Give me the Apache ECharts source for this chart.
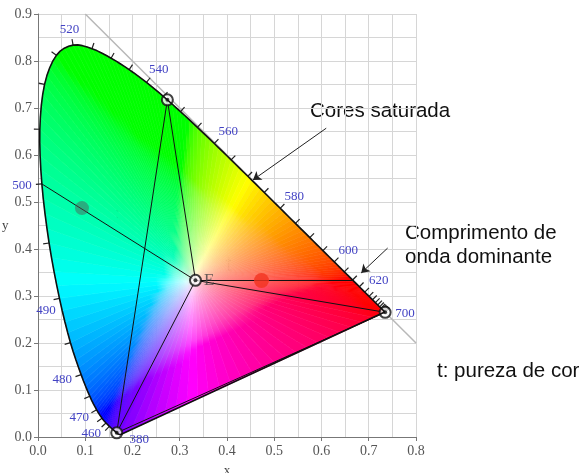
<!DOCTYPE html>
<html>
<head>
<meta charset="utf-8">
<script src="https://cdn.jsdelivr.net/npm/echarts@6/dist/echarts.min.js"></script>
<style>
html,body{margin:0;padding:0;background:#fff}
#chart{width:586px;height:473px}
</style>
</head>
<body>
<div id="chart"></div>
<script>
// CIE 1931 spectral locus, 5 nm steps
var wavelengths = [380,385,390,395,400,405,410,415,420,425,430,435,440,445,450,455,460,465,470,475,480,485,490,495,500,505,510,515,520,525,530,535,540,545,550,555,560,565,570,575,580,585,590,595,600,605,610,615,620,625,630,635,640,645,650,655,660,665,670,675,680,685,690,695,700];
var locusX = [0.1741,0.1740,0.1738,0.1736,0.1733,0.1730,0.1726,0.1721,0.1714,0.1703,0.1689,0.1669,0.1644,0.1611,0.1566,0.1510,0.1440,0.1355,0.1241,0.1096,0.0913,0.0687,0.0454,0.0235,0.0082,0.0039,0.0139,0.0389,0.0743,0.1142,0.1547,0.1929,0.2296,0.2658,0.3016,0.3373,0.3731,0.4087,0.4441,0.4788,0.5125,0.5448,0.5752,0.6029,0.6270,0.6482,0.6658,0.6801,0.6915,0.7006,0.7079,0.7140,0.7190,0.7230,0.7260,0.7283,0.7300,0.7311,0.7320,0.7327,0.7334,0.7340,0.7344,0.7346,0.7347];
var locusY = [0.0050,0.0050,0.0049,0.0049,0.0048,0.0048,0.0048,0.0048,0.0051,0.0058,0.0069,0.0086,0.0109,0.0138,0.0177,0.0227,0.0297,0.0399,0.0578,0.0868,0.1327,0.2007,0.2950,0.4127,0.5384,0.6548,0.7502,0.8120,0.8338,0.8262,0.8059,0.7816,0.7543,0.7243,0.6923,0.6589,0.6245,0.5896,0.5547,0.5202,0.4866,0.4544,0.4242,0.3965,0.3725,0.3514,0.3340,0.3197,0.3083,0.2993,0.2920,0.2859,0.2809,0.2770,0.2740,0.2717,0.2700,0.2689,0.2680,0.2673,0.2666,0.2660,0.2656,0.2654,0.2653];
var labelWavelengths = [380,460,470,480,490,500,520,540,560,580,600,620,700];
var tickStart = 455;

// primaries (G, R, B), equal-energy point, sample colours
var primG = [0.2738, 0.7174];
var primR = [0.7347, 0.2653];
var primB = [0.1666, 0.0089];
var pointE = [0.3333, 0.3333];
var sampleGrey = [0.093, 0.487];
var sampleRed = [0.473, 0.333];
var dom500 = [0.0082, 0.5384];
var domRed = [0.6655, 0.3333];

// label direction overrides
var labelDir = {380: [0.95, 0.3], 490: [-0.67, 0.74], 700: [1, 0.05]};

function gam(c) {
  return c <= 0.0031308 ? 12.92 * c : 1.055 * Math.pow(c, 1 / 2.4) - 0.055;
}
function chromaColor(x, y) {
  var X = x / y, Z = (1 - x - y) / y;
  var r = 3.2406 * X - 1.5372 - 0.4986 * Z;
  var g = -0.9689 * X + 1.8758 + 0.0415 * Z;
  var b = 0.0557 * X - 0.2040 + 1.0570 * Z;
  r = Math.max(r, 0); g = Math.max(g, 0); b = Math.max(b, 0);
  var m = Math.max(r, g, b);
  r = gam(r / m); g = gam(g / m); b = gam(b / m);
  return 'rgb(' + Math.round(r * 255) + ',' + Math.round(g * 255) + ',' + Math.round(b * 255) + ')';
}

// smoothed outline for drawing (catmull-rom through the locus points)
var smoothPts = [];
(function () {
  var n = wavelengths.length, sub = 4;
  function P(i) { i = Math.max(0, Math.min(n - 1, i)); return [locusX[i], locusY[i]]; }
  for (var i = 0; i < n - 1; i++) {
    var p0 = P(i - 1), p1 = P(i), p2 = P(i + 1), p3 = P(i + 2);
    for (var s = 0; s < sub; s++) {
      var t = s / sub, t2 = t * t, t3 = t2 * t;
      var pt = [0, 0];
      for (var d = 0; d < 2; d++) {
        pt[d] = 0.5 * (2 * p1[d] + (-p0[d] + p2[d]) * t + (2 * p0[d] - 5 * p1[d] + 4 * p2[d] - p3[d]) * t2 + (-p0[d] + 3 * p1[d] - 3 * p2[d] + p3[d]) * t3);
      }
      smoothPts.push(pt);
    }
  }
  smoothPts.push(P(n - 1));
})();

// fan of triangles from E to each edge piece
var fillSegs = [];
for (var i = 0; i < smoothPts.length - 1; i++) {
  fillSegs.push([smoothPts[i][0], smoothPts[i][1], smoothPts[i + 1][0], smoothPts[i + 1][1]]);
}
var last = smoothPts[smoothPts.length - 1], first = smoothPts[0], nP = 24;
for (var k = 0; k < nP; k++) {
  var a = k / nP, b = (k + 1) / nP;
  fillSegs.push([
    last[0] + a * (first[0] - last[0]), last[1] + a * (first[1] - last[1]),
    last[0] + b * (first[0] - last[0]), last[1] + b * (first[1] - last[1])
  ]);
}

function renderFill(params, api) {
  var x1 = api.value(0), y1 = api.value(1), x2 = api.value(2), y2 = api.value(3);
  var p1 = api.coord([x1, y1]), p2 = api.coord([x2, y2]);
  var c = api.coord(pointE);
  var mx = (x1 + x2) / 2, my = (y1 + y2) / 2;
  var m = api.coord([mx, my]);
  var stops = [];
  for (var s = 0; s <= 14; s++) {
    var t = s / 14, tt = Math.pow(t, 0.7);
    stops.push({offset: t, color: chromaColor(pointE[0] + tt * (mx - pointE[0]), pointE[1] + tt * (my - pointE[1]))});
  }
  var grad = {type: 'linear', x: c[0], y: c[1], x2: m[0], y2: m[1], colorStops: stops, global: true};
  return {
    type: 'polygon',
    shape: {points: [c, p1, p2]},
    style: {fill: grad, stroke: grad, lineWidth: 0.6}
  };
}

var tickData = [];
for (var j = 0; j < wavelengths.length; j++) {
  var wl = wavelengths[j];
  if (wl < tickStart && labelWavelengths.indexOf(wl) < 0) continue;
  var jp = Math.max(j - 1, 0), jn = Math.min(j + 1, wavelengths.length - 1);
  tickData.push([locusX[j], locusY[j], locusX[jp], locusY[jp], locusX[jn], locusY[jn], wl]);
}

function renderTick(params, api) {
  var p = api.coord([api.value(0), api.value(1)]);
  var pp = api.coord([api.value(2), api.value(3)]);
  var pn = api.coord([api.value(4), api.value(5)]);
  var wl = api.value(6);
  var tx = pn[0] - pp[0], ty = pn[1] - pp[1];
  var L = Math.sqrt(tx * tx + ty * ty) || 1;
  var nx = ty / L, ny = -tx / L;
  var children = [];
  if (wl >= tickStart) {
    children.push({
      type: 'line',
      shape: {x1: p[0], y1: p[1], x2: p[0] + nx * 6, y2: p[1] + ny * 6},
      style: {stroke: '#222', lineWidth: 1.2}
    });
  }
  if (labelWavelengths.indexOf(wl) >= 0) {
    var d = labelDir[wl];
    var lx = nx, ly = ny;
    if (d) { var dl = Math.sqrt(d[0] * d[0] + d[1] * d[1]); lx = d[0] / dl; ly = d[1] / dl; }
    children.push({
      type: 'text',
      style: {
        text: String(wl),
        x: p[0] + lx * 10 + lx * 10,
        y: p[1] + ly * 10 + ly * 6,
        align: 'center',
        verticalAlign: 'middle',
        fill: '#4343c4',
        font: '13px "Liberation Serif"'
      }
    });
  }
  return {type: 'group', children: children};
}

var locusLine = smoothPts.slice();
locusLine.push(smoothPts[0]);

var chart = echarts.init(document.getElementById('chart'));
var axisFont = {fontFamily: 'Liberation Serif', fontSize: 14, color: '#555'};
var textBox = {backgroundColor: '#fff', padding: [1, 2]};

chart.setOption({
  animation: false,
  grid: {left: 38, right: 170, top: 14, bottom: 36, containLabel: false, outerBoundsMode: 'none'},
  xAxis: {
    type: 'value', min: 0, max: 0.8, interval: 0.1,
    name: 'x', nameLocation: 'middle', nameGap: 27,
    nameTextStyle: {fontFamily: 'Liberation Serif', fontSize: 13, color: '#444'},
    axisLine: {lineStyle: {color: '#777'}},
    axisTick: {show: true, length: 4, lineStyle: {color: '#777'}},
    axisLabel: Object.assign({formatter: function (v) { return v.toFixed(1); }, margin: 7}, axisFont),
    splitLine: {lineStyle: {color: '#d6d6d6'}},
    minorTick: {show: false, splitNumber: 2},
    minorSplitLine: {show: true, lineStyle: {color: '#d6d6d6'}}
  },
  yAxis: {
    type: 'value', min: 0, max: 0.9, interval: 0.1,
    name: 'y', nameLocation: 'middle', nameGap: 24, nameRotate: 0,
    nameTextStyle: {fontFamily: 'Liberation Serif', fontSize: 13, color: '#444'},
    axisLine: {show: true, lineStyle: {color: '#777'}},
    axisTick: {show: true, length: 4, lineStyle: {color: '#777'}},
    axisLabel: Object.assign({formatter: function (v) { return v.toFixed(1); }, margin: 6}, axisFont),
    splitLine: {lineStyle: {color: '#d6d6d6'}},
    minorTick: {show: false, splitNumber: 2},
    minorSplitLine: {show: true, lineStyle: {color: '#d6d6d6'}}
  },
  series: [
    {
      type: 'lines', coordinateSystem: 'cartesian2d', silent: true,
      lineStyle: {color: '#b8b8b8', width: 1.5, opacity: 1},
      data: [{coords: [[0.1, 0.9], [0.8, 0.2]]}]
    },
    {
      type: 'custom', renderItem: renderFill, data: fillSegs, silent: true,
      encode: {x: [0, 2], y: [1, 3]}
    },
    {
      type: 'line', data: locusLine, showSymbol: false, silent: true,
      lineStyle: {color: '#111', width: 1.6}
    },
    {
      type: 'lines', coordinateSystem: 'cartesian2d', silent: true,
      lineStyle: {color: '#111', width: 1, opacity: 1},
      data: [
        {coords: [primG, primB]},
        {coords: [primG, pointE]},
        {coords: [primB, pointE]},
        {coords: [primR, pointE]},
        {coords: [primR, primB]},
        {coords: [dom500, pointE]},
        {coords: [pointE, domRed]}
      ]
    },
    {
      type: 'custom', renderItem: renderTick, data: tickData, silent: true,
      encode: {x: 0, y: 1}
    },
    {
      type: 'scatter', silent: true, symbolSize: 14,
      itemStyle: {color: 'rgba(85,85,85,0.6)'},
      data: [sampleGrey]
    },
    {
      type: 'scatter', silent: true, symbolSize: 15,
      itemStyle: {color: '#f2331f'},
      data: [sampleRed]
    },
    {
      type: 'scatter', silent: true, symbolSize: 11,
      itemStyle: {color: '#fff', borderColor: '#111', borderWidth: 2},
      data: [primG, primR, primB, {value: pointE, label: {
        show: true, position: 'right', distance: 2, formatter: 'E',
        fontFamily: 'Liberation Serif', fontSize: 17, color: '#444'
      }}]
    },
    {
      type: 'scatter', silent: true, symbolSize: 4,
      itemStyle: {color: '#111'},
      data: [primG, primR, primB, pointE]
    },
    {
      type: 'lines', coordinateSystem: 'cartesian2d', silent: true,
      symbol: ['none', 'arrow'], symbolSize: 8,
      lineStyle: {color: '#222', width: 1, opacity: 1},
      data: [
        {coords: [[0.610, 0.657], [0.455, 0.547]]},
        {coords: [[0.740, 0.402], [0.684, 0.349]]}
      ]
    }
  ],
  graphic: [
    {type: 'text', left: 308, top: 100, style: Object.assign({text: 'Cores saturada', font: '20.5px "Liberation Sans"', fill: '#111'}, textBox)},
    {type: 'text', left: 403, top: 220, style: Object.assign({text: 'Comprimento de\nonda dominante', font: '20.5px "Liberation Sans"', lineHeight: 24, fill: '#111'}, textBox)},
    {type: 'text', left: 435, top: 360, style: Object.assign({text: 't: pureza de cor', font: '20.5px "Liberation Sans"', fill: '#111'}, textBox)},
    {type: 'text', left: 115, top: 205, style: {text: 't', font: '20px "Liberation Sans"', fill: '#111'}},
    {type: 'text', left: 226, top: 255, style: {text: 't', font: '20px "Liberation Sans"', fill: '#111'}}
  ]
});
</script>
</body>
</html>
